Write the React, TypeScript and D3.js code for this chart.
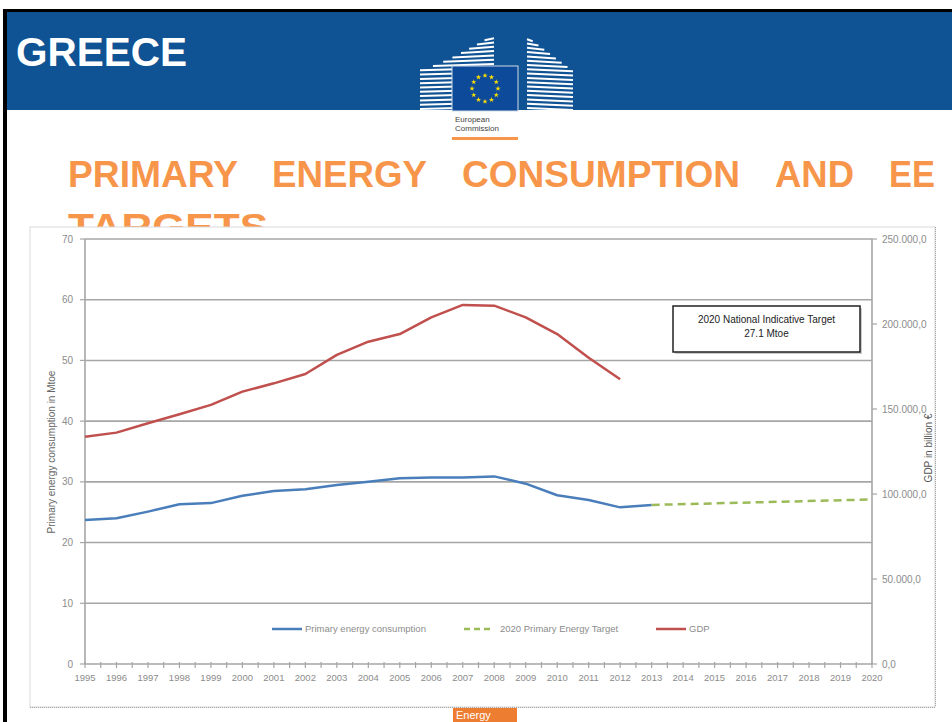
import { useMemo } from 'react'
import * as d3 from 'd3'

// --- data ---
const yearLabels = [
  '1995', '1996', '1997', '1998', '1999', '2000', '2001', '2002', '2003',
  '2004', '2005', '2006', '2007', '2008', '2009', '2010', '2011', '2012',
  '2013', '2014', '2015', '2016', '2017', '2018', '2019', '2020',
]

const energyYears = [
  1995, 1996, 1997, 1998, 1999, 2000, 2001, 2002, 2003, 2004, 2005, 2006,
  2007, 2008, 2009, 2010, 2011, 2012, 2013,
]
const energyValues = [
  23.7, 24.0, 25.1, 26.3, 26.5, 27.7, 28.5, 28.8, 29.5, 30.0, 30.6, 30.7,
  30.7, 30.9, 29.7, 27.8, 27.0, 25.8, 26.2,
]

const gdpYears = [
  1995, 1996, 1997, 1998, 1999, 2000, 2001, 2002, 2003, 2004, 2005, 2006,
  2007, 2008, 2009, 2010, 2011, 2012,
]
const gdpValues = [
  133700, 136100, 141600, 146900, 152400, 160200, 165100, 170600, 181800,
  189600, 194100, 203900, 211200, 210800, 203900, 194100, 180200, 167500,
]

const targetYears = [2013, 2020]
const targetValues = [26.2, 27.1]

const leftTicks = [0, 10, 20, 30, 40, 50, 60, 70]
const rightTicks = [0, 50000, 100000, 150000, 200000, 250000]

const legendItems = [
  { label: 'Primary energy consumption', color: '#4a7ebb', dash: '' },
  { label: '2020 Primary Energy Target', color: '#9bbb59', dash: '6,4' },
  { label: 'GDP', color: '#c0504d', dash: '' },
]

const titleWords = ['PRIMARY', 'ENERGY', 'CONSUMPTION', 'AND', 'EE']

const ORANGE = '#f7964a'
const GRAY = '#8c8c8c'

const fmtRight = (v: number) =>
  d3.format(',.1f')(v).replace(/,/g, '#').replace('.', ',').replace(/#/g, '.')

function Logo() {
  const leftLines = d3.range(0, 17).map((k) => {
    const y = 109 - k * 4.3
    const t = y >= 70 ? 0 : (70 - y) / 33
    const x0 = 420 + 70 * Math.pow(t, 0.8)
    return { y, x0, x1: 494 }
  })
  const rightLines = d3.range(0, 17).map((k) => {
    const y = 109 - k * 4.3
    const x1 = 527 + Math.min(46, (y - 36) * 1.35)
    return { y, x1 }
  })
  const star = d3.symbol(d3.symbolStar, 9)()
  return (
    <g>
      {leftLines.map((l, i) => (
        <line key={'l' + i} x1={l.x0} x2={l.x1} y1={l.y} y2={l.y - 2} stroke="#fff" strokeWidth={2} />
      ))}
      {rightLines.map((l, i) => (
        <line key={'r' + i} x1={527} x2={l.x1} y1={l.y - 1} y2={l.y + 1} stroke="#fff" strokeWidth={2} />
      ))}
      <rect x={452} y={66} width={66} height={45} fill="#0e4a9a" stroke="#d0dbe8" strokeWidth={1} />
      {d3.range(12).map((i) => {
        const a = (i / 12) * 2 * Math.PI
        return (
          <path
            key={'s' + i}
            d={star as string}
            transform={`translate(${485 + 13 * Math.sin(a)},${88.5 - 13 * Math.cos(a)})`}
            fill="#ffe000"
          />
        )
      })}
      <text x={455} y={122} fontSize={8} fill="#444" fontFamily="Liberation Sans, Arial, sans-serif">European</text>
      <text x={455} y={131} fontSize={8} fill="#444" fontFamily="Liberation Sans, Arial, sans-serif">Commission</text>
      <rect x={452} y={137} width={66} height={3} fill={ORANGE} />
    </g>
  )
}

export default function App() {
  const width = 952
  const height = 722
  const plot = { left: 85, right: 872, top: 239, bottom: 664 }

  const x = useMemo(
    () => d3.scaleLinear().domain([1995, 2020]).range([plot.left, plot.right]),
    []
  )
  const yL = useMemo(
    () => d3.scaleLinear().domain([0, 70]).range([plot.bottom, plot.top]),
    []
  )
  const yR = useMemo(
    () => d3.scaleLinear().domain([0, 250000]).range([plot.bottom, plot.top]),
    []
  )

  const energyLine = d3
    .line<number>()
    .x((_, i) => x(energyYears[i]))
    .y((d) => yL(d))(energyValues)
  const gdpLine = d3
    .line<number>()
    .x((_, i) => x(gdpYears[i]))
    .y((d) => yR(d))(gdpValues)
  const targetLine = d3
    .line<number>()
    .x((_, i) => x(targetYears[i]))
    .y((d) => yL(d))(targetValues)

  const halfTicks = d3.range(1995, 2020.01, 0.5)
  const titleX = [68, 272, 462, 775, 889]
  const titleW = [170, 155, 278, 79, 46]
  const legendX = [272, 464, 656]
  const font = 'Liberation Sans, Arial, sans-serif'

  return (
    <svg
      width={width}
      height={height}
      style={{ position: 'absolute', left: 0, top: 0, background: '#fff' }}
      fontFamily={font}
    >
      <defs>
        <clipPath id="aboveChart">
          <rect x={0} y={0} width={width} height={227} />
        </clipPath>
      </defs>

      {/* slide frame and header */}
      <rect x={0} y={0} width={width} height={height} fill="#fff" />
      <rect x={3} y={9} width={width - 3} height={3} fill="#000" />
      <rect x={3} y={9} width={4} height={height - 9} fill="#000" />
      <rect x={7} y={12} width={width - 7} height={98} fill="#0f5394" />
      <text x={16} y={66} fontSize={40} fontWeight="bold" fill="#fff" textLength={171} lengthAdjust="spacingAndGlyphs">
        GREECE
      </text>
      <Logo />

      {/* slide title */}
      {titleWords.map((w, i) => (
        <text
          key={w}
          x={titleX[i]}
          y={187}
          fontSize={37}
          fontWeight="bold"
          fill={ORANGE}
          textLength={titleW[i]}
          lengthAdjust="spacingAndGlyphs"
        >
          {w}
        </text>
      ))}
      <g clipPath="url(#aboveChart)">
        <text x={68} y={240} fontSize={37} fontWeight="bold" fill={ORANGE} textLength={200} lengthAdjust="spacingAndGlyphs">
          TARGETS
        </text>
      </g>

      {/* chart area */}
      <rect x={30} y={227} width={905} height={480} fill="#fff" stroke="#d9d9d9" strokeWidth={1} />
      <line x1={30} x2={935} y1={707.5} y2={707.5} stroke="#a0a0a0" strokeDasharray="1,1" />
      <line x1={935.5} x2={935.5} y1={227} y2={707} stroke="#a0a0a0" strokeDasharray="1,1" />

      {/* gridlines */}
      {leftTicks.slice(1).map((t) => (
        <line key={'g' + t} x1={plot.left} x2={plot.right} y1={yL(t)} y2={yL(t)} stroke="#a6a6a6" strokeWidth={1.6} />
      ))}

      {/* axes */}
      <line x1={plot.left} x2={plot.left} y1={plot.top} y2={plot.bottom} stroke="#a6a6a6" strokeWidth={1.6} />
      <line x1={plot.right} x2={plot.right} y1={plot.top} y2={plot.bottom} stroke="#a6a6a6" strokeWidth={1.6} />
      <line x1={plot.left} x2={plot.right} y1={plot.bottom} y2={plot.bottom} stroke="#a6a6a6" strokeWidth={1.6} />
      {leftTicks.map((t) => (
        <g key={'lt' + t}>
          <line x1={plot.left - 5} x2={plot.left} y1={yL(t)} y2={yL(t)} stroke="#a6a6a6" strokeWidth={1.2} />
          <text x={73} y={yL(t)} dy="0.35em" textAnchor="end" fontSize={10} fill={GRAY}>
            {t}
          </text>
        </g>
      ))}
      {rightTicks.map((t) => (
        <g key={'rt' + t}>
          <line x1={plot.right} x2={plot.right + 5} y1={yR(t)} y2={yR(t)} stroke="#a6a6a6" strokeWidth={1.2} />
          <text x={882} y={yR(t)} dy="0.35em" fontSize={10} fill={GRAY}>
            {fmtRight(t)}
          </text>
        </g>
      ))}
      {halfTicks.map((t) => (
        <line key={'xt' + t} x1={x(t)} x2={x(t)} y1={plot.bottom - 2} y2={plot.bottom + 4} stroke="#a6a6a6" strokeWidth={1.2} />
      ))}
      {yearLabels.map((l) => (
        <text key={l} x={x(+l)} y={681} textAnchor="middle" fontSize={9.5} fill={GRAY}>
          {l}
        </text>
      ))}
      <text
        transform={`translate(55,452) rotate(-90)`}
        textAnchor="middle"
        fontSize={10}
        fill="#666"
      >
        Primary energy consumption in Mtoe
      </text>
      <text
        transform={`translate(932,448) rotate(-90)`}
        textAnchor="middle"
        fontSize={10}
        fill="#555"
      >
        GDP in billion €
      </text>

      {/* series */}
      <path d={gdpLine as string} fill="none" stroke="#c0504d" strokeWidth={2.5} strokeLinejoin="round" />
      <path d={energyLine as string} fill="none" stroke="#4a7ebb" strokeWidth={2.5} strokeLinejoin="round" />
      <path d={targetLine as string} fill="none" stroke="#9bbb59" strokeWidth={2.5} strokeDasharray="8,5" />

      {/* legend */}
      {legendItems.map((it, i) => (
        <g key={it.label}>
          <line
            x1={legendX[i]}
            x2={legendX[i] + 30}
            y1={629}
            y2={629}
            stroke={it.color}
            strokeWidth={2.5}
            strokeDasharray={it.dash}
          />
          <text x={legendX[i] + (i === 1 ? 36 : 33)} y={629} dy="0.35em" fontSize={9.5} fill={GRAY}>
            {it.label}
          </text>
        </g>
      ))}

      {/* annotation */}
      <rect x={675} y={308} width={187} height={46} fill="#999" opacity={0.5} />
      <rect x={673} y={306} width={187} height={46} fill="#fff" stroke="#222" strokeWidth={1.5} />
      <text x={766.5} y={323} textAnchor="middle" fontSize={10} fill="#222">
        2020 National Indicative Target
      </text>
      <text x={766.5} y={337} textAnchor="middle" fontSize={10} fill="#222">
        27.1 Mtoe
      </text>

      {/* footer tag */}
      <rect x={453} y={708} width={64} height={14} fill="#ed7d31" />
      <text x={456} y={719} fontSize={11} fill="#fff">
        Energy
      </text>
    </svg>
  )
}
